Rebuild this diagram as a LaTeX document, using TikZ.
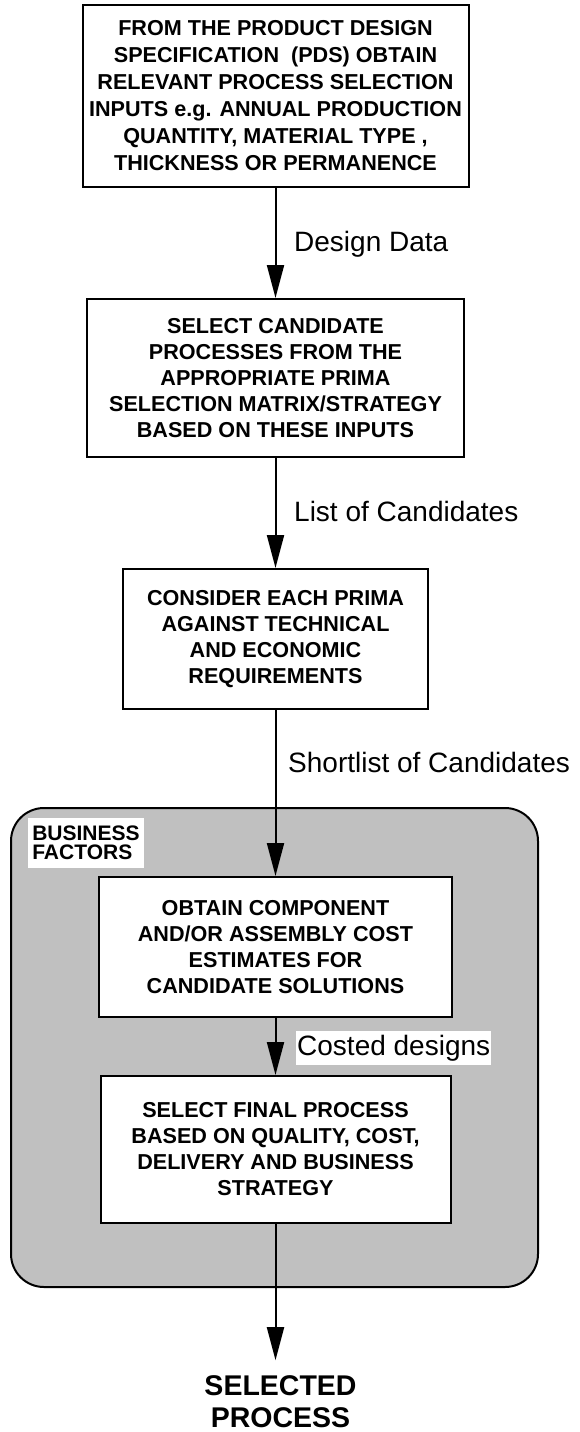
\documentclass[tikz,border=0pt]{standalone}
\usepackage{fontspec}
\setmainfont{Liberation Sans}
\usetikzlibrary{arrows.meta}
\definecolor{bfgray}{HTML}{C0C0C0}
\begin{document}
\begin{tikzpicture}[x=1pt,y=-1pt,
  box/.style={draw=black, line width=2pt, fill=white, align=center, inner sep=0pt,
    font=\fontsize{21.6}{26}\bfseries\selectfont},
  lab/.style={anchor=base west, inner sep=0pt, font=\fontsize{28}{32}\selectfont},
  flow/.style={line width=2pt, -{Triangle[length=33pt,width=17pt]}}]
\useasboundingbox (0,0) rectangle (580,1432);
% business factors container
\node[draw=black, line width=2pt, fill=bfgray, rounded corners=33pt,
  minimum width=527pt, minimum height=479pt, inner sep=0pt] (bf) at (274.5,1047.5) {};
\node[fill=white, inner sep=0pt, minimum width=116pt, minimum height=50pt, align=left,
  font=\fontsize{21}{18.5}\bfseries\selectfont] (bfl) at (86,843) {BUSINESS\\FACTORS};
% process boxes
\node[box, font=\fontsize{21.6}{27}\bfseries\selectfont, minimum width=386pt, minimum height=182pt] (b1) at (275.5,96)
  {FROM THE PRODUCT DESIGN\\SPECIFICATION\ \ (PDS) OBTAIN\\RELEVANT PROCESS SELECTION\\INPUTS e.g. ANNUAL PRODUCTION\\QUANTITY, MATERIAL TYPE ,\\THICKNESS OR PERMANENCE};
\node[box, minimum width=377pt, minimum height=158pt] (b2) at (275.5,378)
  {SELECT CANDIDATE\\PROCESSES FROM THE\\APPROPRIATE PRIMA\\SELECTION MATRIX/STRATEGY\\BASED ON THESE INPUTS};
\node[box, minimum width=305pt, minimum height=140pt] (b3) at (275.5,639)
  {CONSIDER EACH PRIMA\\AGAINST TECHNICAL\\AND ECONOMIC\\REQUIREMENTS};
\node[box, minimum width=353pt, minimum height=140pt] (b4) at (275.5,947)
  {OBTAIN COMPONENT\\AND/OR ASSEMBLY COST\\ESTIMATES FOR\\CANDIDATE SOLUTIONS};
\node[box, minimum width=350pt, minimum height=147pt] (b5) at (275.5,1149.5)
  {SELECT FINAL PROCESS\\BASED ON QUALITY, COST,\\DELIVERY AND BUSINESS\\STRATEGY};
\node[align=center, inner xsep=0pt, inner ysep=15pt, font=\fontsize{28.5}{32}\bfseries\selectfont] (sel) at (280.5,1401.5)
  {SELECTED\\PROCESS};
% connectors
\draw[flow] (b1.south) -- (b2.north);
\draw[flow] (b2.south) -- (b3.north);
\draw[flow] (b3.south) -- (b4.north);
\draw[flow] (b4.south) -- (b5.north);
\draw[flow] (b5.south) -- (b5.south |- sel.north);
% labels
\node[lab] (l1) at (294,251.5) {Design Data};
\node[lab] (l2) at (294,521.5) {List of Candidates};
\node[lab] (l3) at (288,772) {Shortlist of Candidates};
\node[lab, fill=white, inner xsep=1pt, inner ysep=4pt] (l4) at (296,1055) {Costed designs};
\end{tikzpicture}
\end{document}
